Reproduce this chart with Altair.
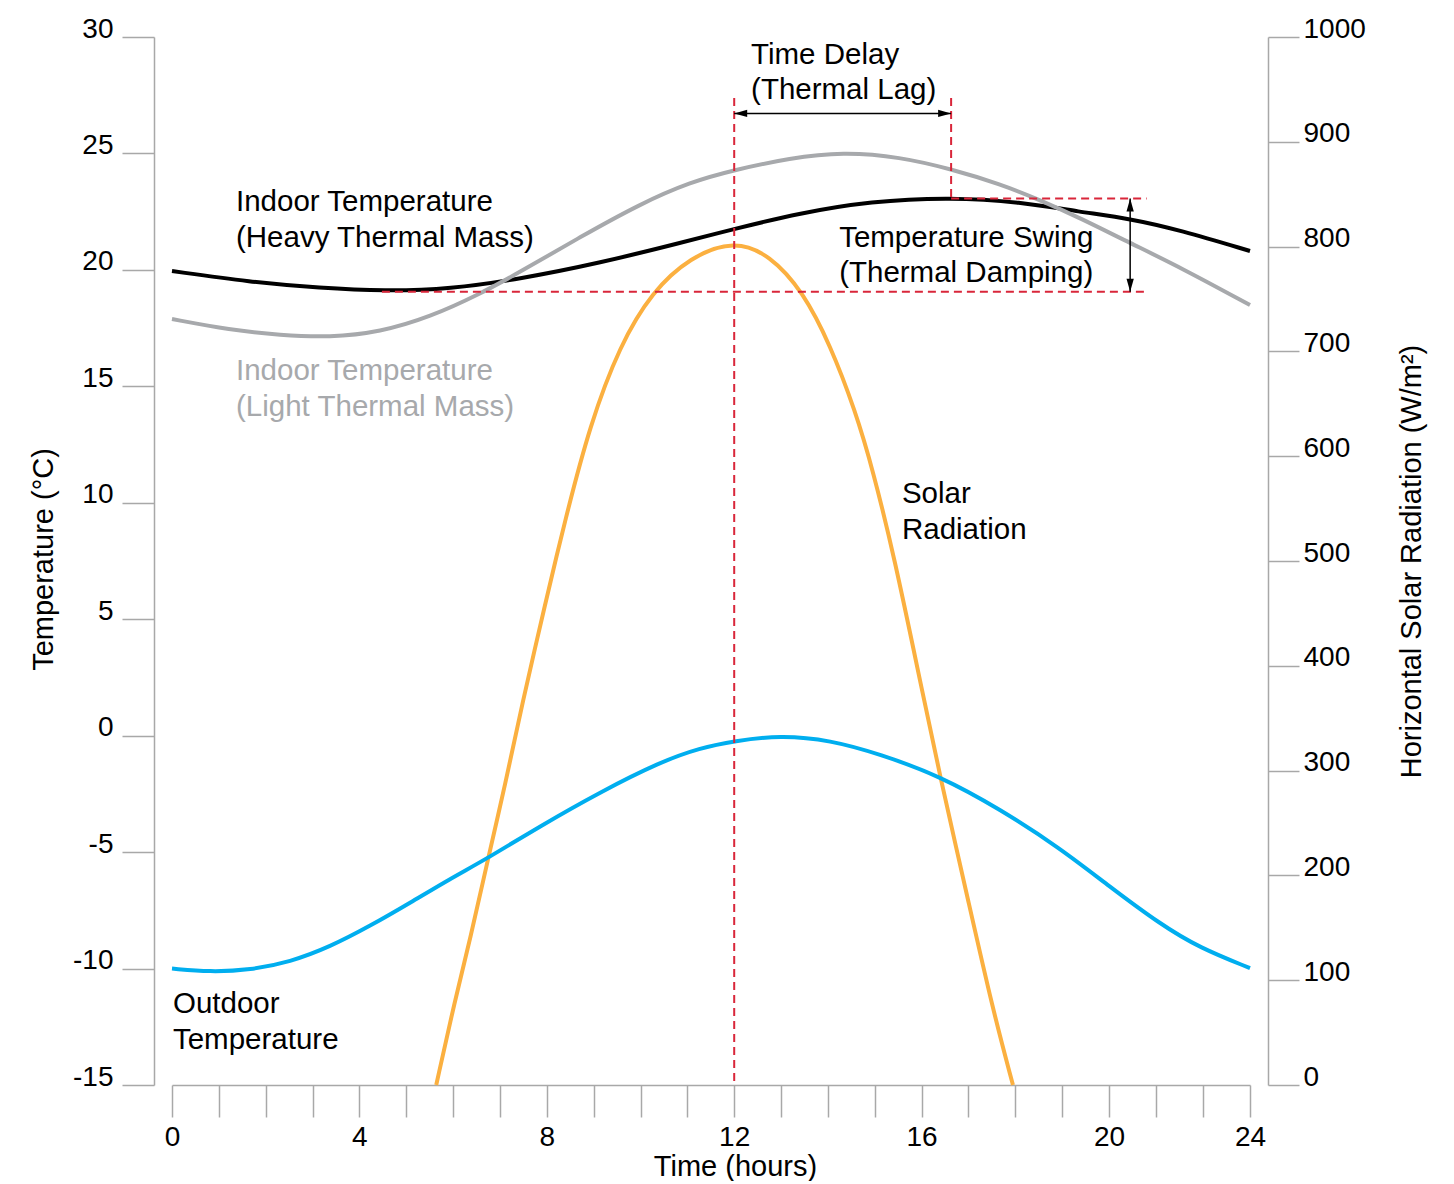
import altair as alt
import pandas as pd

FONT = "Liberation Sans"

# ---------------- data ----------------
outdoor_hours = [0, 0.81, 1.67, 2.52, 3.37, 4.23, 5.08, 5.93, 6.75, 7.86, 9.14, 10.42,
                 11.27, 12.0, 12.98, 14.05, 15.11, 16.39, 17.67, 18.95, 20.0, 21.45, 22.58, 24.0]
outdoor_temp = [-10.0, -10.15, -10.06, -9.72, -9.07, -8.17, -7.18, -6.15, -5.25, -3.88, -2.42, -1.13,
                -0.53, -0.23, 0.02, -0.19, -0.79, -1.73, -3.15, -4.82, -6.46, -8.09, -9.12, -9.98]

heavy_hours = [0, 1.67, 3.16, 4.55, 5.93, 7.43, 9.14, 10.84, 12.0, 13.4, 14.9, 16.63,
               18.1, 19.38, 20.6, 22.01, 24.0]
heavy_temp = [19.95, 19.48, 19.22, 19.09, 19.18, 19.61, 20.3, 21.15, 21.76, 22.44, 22.95, 23.12,
              22.92, 22.49, 22.2, 21.71, 20.81]

light_hours = [0, 1.24, 2.31, 3.37, 4.44, 5.51, 6.57, 7.43, 8.71, 9.99, 11.06, 12.0,
               13.19, 14.32, 15.54, 16.63, 17.67, 18.53, 19.38, 20.6, 22.01, 24.0]
light_temp = [17.89, 17.42, 17.2, 17.1, 17.33, 17.98, 18.96, 19.91, 21.41, 22.83, 23.77, 24.29,
              24.8, 25.06, 24.85, 24.33, 23.69, 23.0, 22.23, 21.15, 20.12, 18.49]

solar_hours = [5.64, 6.04, 6.36, 6.75, 7.11, 7.47, 7.96, 8.39, 8.92, 9.56, 10.25, 11.06,
               12.0, 12.76, 13.47, 14.05, 14.58, 14.96, 15.43, 15.92, 16.39, 16.99, 17.52, 17.95]
solar_wm2 = [0, 81, 138, 217, 286, 363, 458, 539, 630, 706, 757, 790,
             806, 792, 757, 706, 644, 587, 501, 396, 295, 177, 72, 0]

x_tick_values = list(range(0, 21)) + [21.333, 22.667, 24]
temp_tick_values = [-15, -10, -5, 0, 5, 10, 15, 20, 25, 30]
solar_tick_values = [0, 100, 200, 300, 400, 500, 600, 700, 800, 900, 1000]

# annotation geometry (data units: hours, degC)
lag_start, lag_end = 12.0, 16.63
lag_top = 27.38
heavy_peak, heavy_min = 23.07, 19.06
swing_left, swing_right = 4.48, 21.07
arrow_lag_y = 26.72
arrow_swing_x = 20.6

label_text = ["Time Delay\n(Thermal Lag)",
              "Indoor Temperature\n(Heavy Thermal Mass)",
              "Indoor Temperature\n(Light Thermal Mass)",
              "Temperature Swing\n(Thermal Damping)",
              "Solar\nRadiation",
              "Outdoor\nTemperature"]
label_hours = [12.36, 1.366, 1.366, 14.24, 15.58, 0.02]
label_temp = [28.86, 22.51, 15.27, 21.0, 9.98, -11.92]
label_color = ["#000000", "#000000", "#A7A9AC", "#000000", "#000000", "#000000"]

# ---------------- tables ----------------
def series(hours, vals):
    return pd.DataFrame({"t": hours, "v": vals})

outdoor_df = series(outdoor_hours, outdoor_temp)
heavy_df = series(heavy_hours, heavy_temp)
light_df = series(light_hours, light_temp)
solar_df = series(solar_hours, solar_wm2)

dash_df = pd.DataFrame({
    "t":  [lag_start, lag_end, lag_end, swing_left],
    "t2": [lag_start, lag_end, swing_right, swing_right],
    "v":  [lag_top, lag_top, heavy_peak, heavy_min],
    "v2": [-15, heavy_peak, heavy_peak, heavy_min],
})
arrow_df = pd.DataFrame({
    "t":  [lag_start, arrow_swing_x],
    "t2": [lag_end, arrow_swing_x],
    "v":  [arrow_lag_y, heavy_peak],
    "v2": [arrow_lag_y, heavy_min],
})
head_df = pd.DataFrame({
    "t": [lag_start, lag_end, arrow_swing_x, arrow_swing_x],
    "v": [arrow_lag_y, arrow_lag_y, heavy_peak, heavy_min],
    "ang": [180, 0, 270, 90],
})
label_df = pd.DataFrame({"t": label_hours, "v": label_temp,
                         "label": label_text, "color": label_color})

# ---------------- scales & axes ----------------
AXIS_GRAY = "#A8A8A8"
PLAIN = "'' + datum.value"

x_scale = alt.Scale(domain=[0, 20, 24], range=[0, 937, 1078], nice=False, zero=False)
t_scale = alt.Scale(domain=[-15, 30], nice=False, zero=False)
s_scale = alt.Scale(domain=[0, 1000], nice=False, zero=False)

x_axis = alt.Axis(values=x_tick_values, labelExpr="datum.value % 4 == 0 ? '' + datum.value : ''",
                  orient="bottom", tickSize=32, labelPadding=6, labelFlush=False, labelOverlap=False,
                  labelFont=FONT, labelFontSize=28, labelColor="#000000",
                  domainColor=AXIS_GRAY, tickColor=AXIS_GRAY, domainWidth=1.5, tickWidth=1.5,
                  grid=False, title="Time (hours)", titleFont=FONT, titleFontSize=29,
                  titleFontWeight="normal", titleColor="#000000",
                  titleX=563, titleY=90, titleAlign="center", titleBaseline="alphabetic")

t_axis = alt.Axis(values=temp_tick_values, labelExpr=PLAIN, orient="left", offset=18, tickSize=32,
                  labelPadding=9, labelAlign="right", labelBaseline="alphabetic", labelOverlap=False,
                  labelFont=FONT, labelFontSize=28, labelColor="#000000",
                  domainColor=AXIS_GRAY, tickColor=AXIS_GRAY, domainWidth=1.5, tickWidth=1.5,
                  grid=False, title="Temperature (\u00b0C)", titleFont=FONT, titleFontSize=29,
                  titleFontWeight="normal", titleColor="#000000", titleAngle=270,
                  titleX=-102, titleY=522, titleAlign="center", titleBaseline="alphabetic")

s_axis = alt.Axis(values=solar_tick_values, labelExpr=PLAIN, orient="right", offset=18, tickSize=31,
                  labelPadding=4, labelAlign="left", labelBaseline="alphabetic", labelOverlap=False,
                  labelFont=FONT, labelFontSize=28, labelColor="#000000",
                  domainColor=AXIS_GRAY, tickColor=AXIS_GRAY, domainWidth=1.5, tickWidth=1.5,
                  grid=False, title="Horizontal Solar Radiation (W/m\u00b2)", titleFont=FONT,
                  titleFontSize=29, titleFontWeight="normal", titleColor="#000000", titleAngle=270,
                  titleX=152, titleY=524, titleAlign="center", titleBaseline="alphabetic")

X = alt.X("t:Q", scale=x_scale, axis=x_axis)
YT = alt.Y("v:Q", scale=t_scale, axis=t_axis)
YS = alt.Y("v:Q", scale=s_scale, axis=s_axis)

# ---------------- layers ----------------
CURVE = "basis"
solar = alt.Chart(solar_df).mark_line(color="#FBB040", strokeWidth=4, interpolate=CURVE).encode(x=X, y=YS)

def temp_line(df, color):
    return alt.Chart(df).mark_line(color=color, strokeWidth=4, interpolate=CURVE).encode(x=X, y=YT)

outdoor = temp_line(outdoor_df, "#00AEEF")
heavy = temp_line(heavy_df, "#000000")
light = temp_line(light_df, "#A7A9AC")

dashes = alt.Chart(dash_df).mark_rule(color="#D9263A", strokeWidth=2, strokeDash=[8, 5]).encode(
    x=X, x2="t2:Q", y=YT, y2="v2:Q")

arrows = alt.Chart(arrow_df).mark_rule(color="#000000", strokeWidth=1.5).encode(
    x=X, x2="t2:Q", y=YT, y2="v2:Q")

heads = alt.Chart(head_df).mark_point(shape="M0,0L-1,-0.28L-1,0.28Z", filled=True, size=676,
                                      opacity=1, color="#000000", strokeWidth=0).encode(
    x=X, y=YT, angle=alt.Angle("ang:Q", scale=None))

labels = alt.Chart(label_df).mark_text(align="left", baseline="alphabetic", font=FONT, fontSize=29.5,
                                       lineBreak="\n", lineHeight=35.5).encode(
    x=X, y=YT, text="label:N", color=alt.Color("color:N", scale=None))

temps = alt.layer(outdoor, heavy, light, dashes, arrows, heads, labels)

chart = alt.layer(solar, temps).resolve_scale(y="independent").properties(
    width=1078, height=1048,
    autosize=alt.AutoSizeParams(type="none"),
    padding={"left": 164, "top": 29, "right": 185, "bottom": 96},
    background="white",
).configure_view(stroke=None)

chart.save("out.html", embed_options={"renderer": "svg", "actions": False})
